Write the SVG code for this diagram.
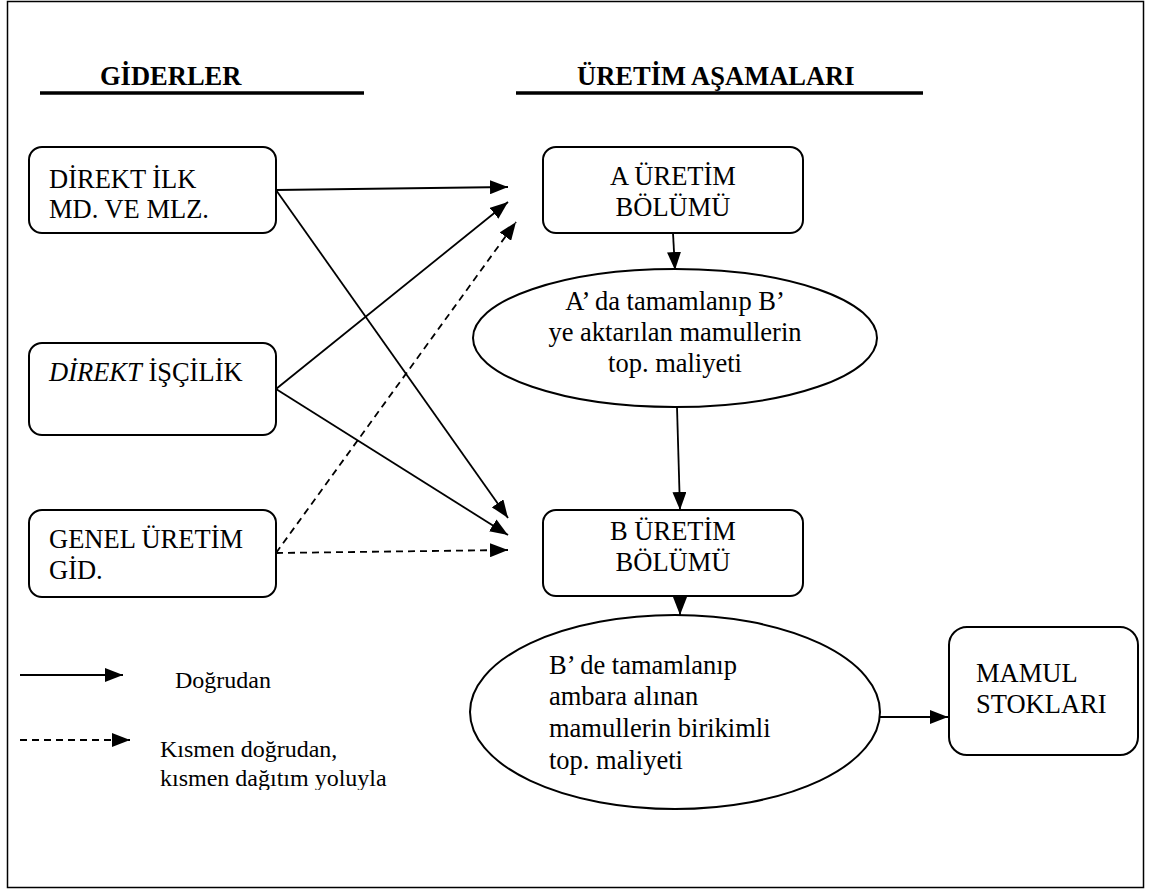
<svg xmlns="http://www.w3.org/2000/svg" width="1151" height="890" viewBox="0 0 1151 890" font-family="Liberation Serif, Times New Roman, serif">
<defs>
<style>
.box{fill:#fff;stroke:#000;stroke-width:2}
.t{font-family:'Liberation Serif','Times New Roman',serif;font-size:26.5px;fill:#000}
.h{font-family:'Liberation Serif','Times New Roman',serif;font-size:26.5px;font-weight:bold;fill:#000}
.lg{font-family:'Liberation Serif','Times New Roman',serif;font-size:24px;fill:#000}
.c{text-anchor:middle}
.ln{stroke:#000;stroke-width:1.8;fill:none}
.d{stroke-dasharray:7 5}
.ul{stroke:#000;stroke-width:3.5}
</style>
<marker id="ahb" viewBox="0 0 10 10" refX="10" refY="5" markerWidth="18" markerHeight="14" markerUnits="userSpaceOnUse" orient="auto" preserveAspectRatio="none">
<path d="M0,0 L10,5 L0,10 z" fill="#000"/>
</marker>
<clipPath id="clip"><rect x="0" y="0" width="1151" height="790"/></clipPath>
</defs>
<rect x="0" y="0" width="1151" height="890" fill="#fff"/>
<rect x="7.5" y="1.5" width="1136" height="886" fill="none" stroke="#000" stroke-width="1.5"/>

<g id="headers">
<text class="h" x="100" y="85">GİDERLER</text>
<line class="ul" x1="40" y1="93" x2="364" y2="93"/>
<text class="h" x="577" y="85">ÜRETİM AŞAMALARI</text>
<line class="ul" x1="516" y1="93" x2="923" y2="93"/>
</g>

<g id="connectors">
<line class="ln" x1="276" y1="190" x2="508" y2="187" marker-end="url(#ahb)"/>
<line class="ln" x1="276" y1="190" x2="508" y2="518" marker-end="url(#ahb)"/>
<line class="ln" x1="276" y1="389" x2="508" y2="202" marker-end="url(#ahb)"/>
<line class="ln" x1="276" y1="389" x2="508" y2="535" marker-end="url(#ahb)"/>
<line class="ln d" x1="276" y1="553" x2="516" y2="222" marker-end="url(#ahb)"/>
<line class="ln d" x1="276" y1="553" x2="508" y2="550" marker-end="url(#ahb)"/>
<line class="ln" x1="673" y1="233" x2="675" y2="270" marker-end="url(#ahb)"/>
<line class="ln" x1="677" y1="407" x2="680" y2="510" marker-end="url(#ahb)"/>
<line class="ln" x1="680" y1="596" x2="680" y2="615" marker-end="url(#ahb)"/>
<line class="ln" x1="880" y1="717" x2="948" y2="717" marker-end="url(#ahb)"/>
</g>

<g id="n-direkt-ilk">
<rect class="box" x="29" y="147" width="247" height="86" rx="13"/>
<text class="t" x="49" y="188">DİREKT İLK</text>
<text class="t" x="49" y="218">MD. VE MLZ.</text>
</g>

<g id="n-iscilik">
<rect class="box" x="29" y="343" width="247" height="92" rx="13"/>
<text class="t" x="49" y="381"><tspan font-style="italic">DİREKT</tspan> İŞÇİLİK</text>
</g>

<g id="n-genel">
<rect class="box" x="29" y="510" width="247" height="87" rx="13"/>
<text class="t" x="49" y="548">GENEL ÜRETİM</text>
<text class="t" x="49" y="579">GİD.</text>
</g>

<g id="n-a">
<rect class="box" x="543" y="147" width="260" height="86" rx="13"/>
<text class="t c" x="673" y="185">A ÜRETİM</text>
<text class="t c" x="673" y="216">BÖLÜMÜ</text>
</g>

<g id="n-a-ellipse">
<ellipse class="box" cx="675" cy="338" rx="202" ry="69"/>
<text class="t c" x="675" y="310">A’ da tamamlanıp B’</text>
<text class="t c" x="675" y="341">ye aktarılan mamullerin</text>
<text class="t c" x="675" y="372">top. maliyeti</text>
</g>

<g id="n-b">
<rect class="box" x="543" y="510" width="260" height="86" rx="13"/>
<text class="t c" x="673" y="540">B ÜRETİM</text>
<text class="t c" x="673" y="571">BÖLÜMÜ</text>
</g>

<g id="n-b-ellipse">
<ellipse class="box" cx="675" cy="712" rx="205" ry="97"/>
<text class="t" x="549" y="674">B’ de tamamlanıp</text>
<text class="t" x="549" y="705">ambara alınan</text>
<text class="t" x="549" y="737">mamullerin birikimli</text>
<text class="t" x="549" y="769">top. maliyeti</text>
</g>

<g id="n-mamul">
<rect class="box" x="949" y="627" width="189" height="128" rx="18"/>
<text class="t" x="976" y="682">MAMUL</text>
<text class="t" x="976" y="713">STOKLARI</text>
</g>

<g id="legend">
<line class="ln" x1="20" y1="675" x2="123" y2="675" marker-end="url(#ahb)"/>
<text class="lg" x="175" y="688">Doğrudan</text>
<line class="ln d" x1="20" y1="740" x2="130" y2="740" marker-end="url(#ahb)"/>
<g clip-path="url(#clip)">
<text class="lg" x="160" y="757">Kısmen doğrudan,</text>
<text class="lg" x="160" y="786">kısmen dağıtım yoluyla</text>
</g>
</g>
</svg>
